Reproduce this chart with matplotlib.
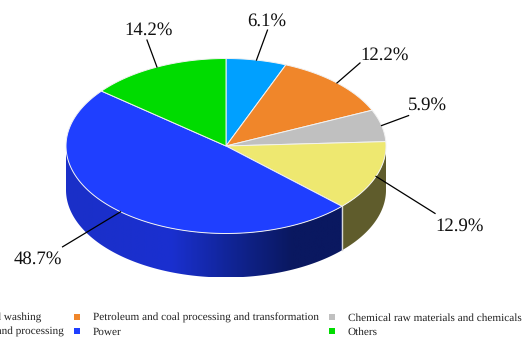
import numpy as np
import matplotlib
matplotlib.use("Agg")
import matplotlib.pyplot as plt
from matplotlib.colors import LinearSegmentedColormap
from matplotlib.patches import Polygon

categories = [
    "Coal mining and washing",
    "Petroleum and coal processing and transformation",
    "Chemical raw materials and chemicals",
    "Metal smelting and processing",
    "Power",
    "Others",
]
shares = [6.1, 12.2, 5.9, 12.9, 48.7, 14.2]
top_colors = ["#00A0FF", "#F0862A", "#C0C0C0", "#EEE870", "#1F3FFF", "#00DC00"]
side_colors = ["#005090", "#784315", "#808080", "#5F5C2C", "#1A30D0", "#006E00"]

# Pie geometry on a pixel-sized canvas
CX, CY, RX, RY, DEPTH = 226, 146, 160, 87.5, 44
plt.rcParams["font.family"] = ["Liberation Serif", "DejaVu Serif"]
plt.rcParams["text.hinting"] = "no_hinting"

fig = plt.figure(figsize=(5.26, 3.39), dpi=100)
ax = fig.add_axes([0, 0, 1, 1])
ax.set_xlim(0, 526)
ax.set_ylim(339, 0)
ax.axis("off")


def rim(theta):
    return CX + RX * np.sin(theta), CY - RY * np.cos(theta)


edges = np.radians(np.cumsum([0] + shares) / sum(shares) * 360)

# Side wall: only the front half of the rim is visible
wall_shade = LinearSegmentedColormap.from_list(
    "wall", [(0.0, "#1A2FC8"), (0.38, "#1A30D0"), (0.62, "#102390"), (0.82, "#0A1860"), (1.0, "#0A1860")]
)
for i, (a, b) in enumerate(zip(edges[:-1], edges[1:])):
    lo, hi = max(a, np.pi / 2), min(b, 3 * np.pi / 2)
    if hi <= lo:
        continue
    th = np.linspace(lo, hi, 120)
    x, y = rim(th)
    outline = np.c_[np.r_[x, x[::-1]], np.r_[y, (y + DEPTH)[::-1]]]
    if categories[i] == "Power":
        # Shaded wall, lighter on the left and fading to navy on the right
        shape = Polygon(outline, closed=True, facecolor="none", edgecolor="none",
                        transform=ax.transData)
        ax.add_patch(shape)
        band = ax.imshow(np.linspace(0, 1, 300)[None, :], cmap=wall_shade, aspect="auto",
                         extent=(x.min(), x.max(), y.max() + DEPTH, y.min()), zorder=1)
        band.set_clip_path(shape)
    else:
        ax.fill(outline[:, 0], outline[:, 1], color=side_colors[i], lw=0, zorder=1)
ax.set_xlim(0, 526)
ax.set_ylim(339, 0)

# Pale seam where the yellow and blue walls meet
sx, sy = rim(edges[4])
ax.plot([sx, sx], [sy, sy + DEPTH], color="#D8D8D8", lw=1.0, zorder=2)

# Top face
for i, (a, b) in enumerate(zip(edges[:-1], edges[1:])):
    th = np.linspace(a, b, 120)
    x, y = rim(th)
    ax.fill(np.r_[CX, x], np.r_[CY, y], facecolor=top_colors[i],
            edgecolor="#F2F2F2", lw=0.7, zorder=3)

# Callouts: offset of the leader end and of the label from the rim anchor
leader_offsets = [(11, -30), (23, -20), (27, -10), (59, 37), (-58, 35), (-10, -27)]
label_offsets = [(10, -39), (48, -28), (46, -20), (83.5, 50), (-83, 47), (-8, -36.5)]
for i, share in enumerate(shares):
    mid = (edges[i] + edges[i + 1]) / 2
    px, py = rim(mid)
    dx, dy = leader_offsets[i]
    ax.plot([px, px + dx], [py, py + dy], color="black", lw=0.9, zorder=4)
    lx, ly = label_offsets[i]
    ax.text(px + lx, py + ly, f"{share:.1f}%", fontsize=13.5, color="#111111",
            ha="center", va="center", zorder=5)

# Legend, three columns by two rows, running past the left edge of the canvas
legend_x = [-90, 77, 332]
legend_y = [317, 331]
for i, (name, colour) in enumerate(zip(categories, top_colors)):
    col, row = [(0, 0), (1, 0), (2, 0), (0, 1), (1, 1), (2, 1)][i]
    mx, my = legend_x[col], legend_y[row]
    ax.plot([mx], [my], marker="s", ms=4.4, color=colour, mew=0)
    ax.text(mx + 15.7, my + 1, name, fontsize=8.1, color="#222222", ha="left",
            va="center")

fig.savefig("out.png", dpi=100, facecolor="white")
